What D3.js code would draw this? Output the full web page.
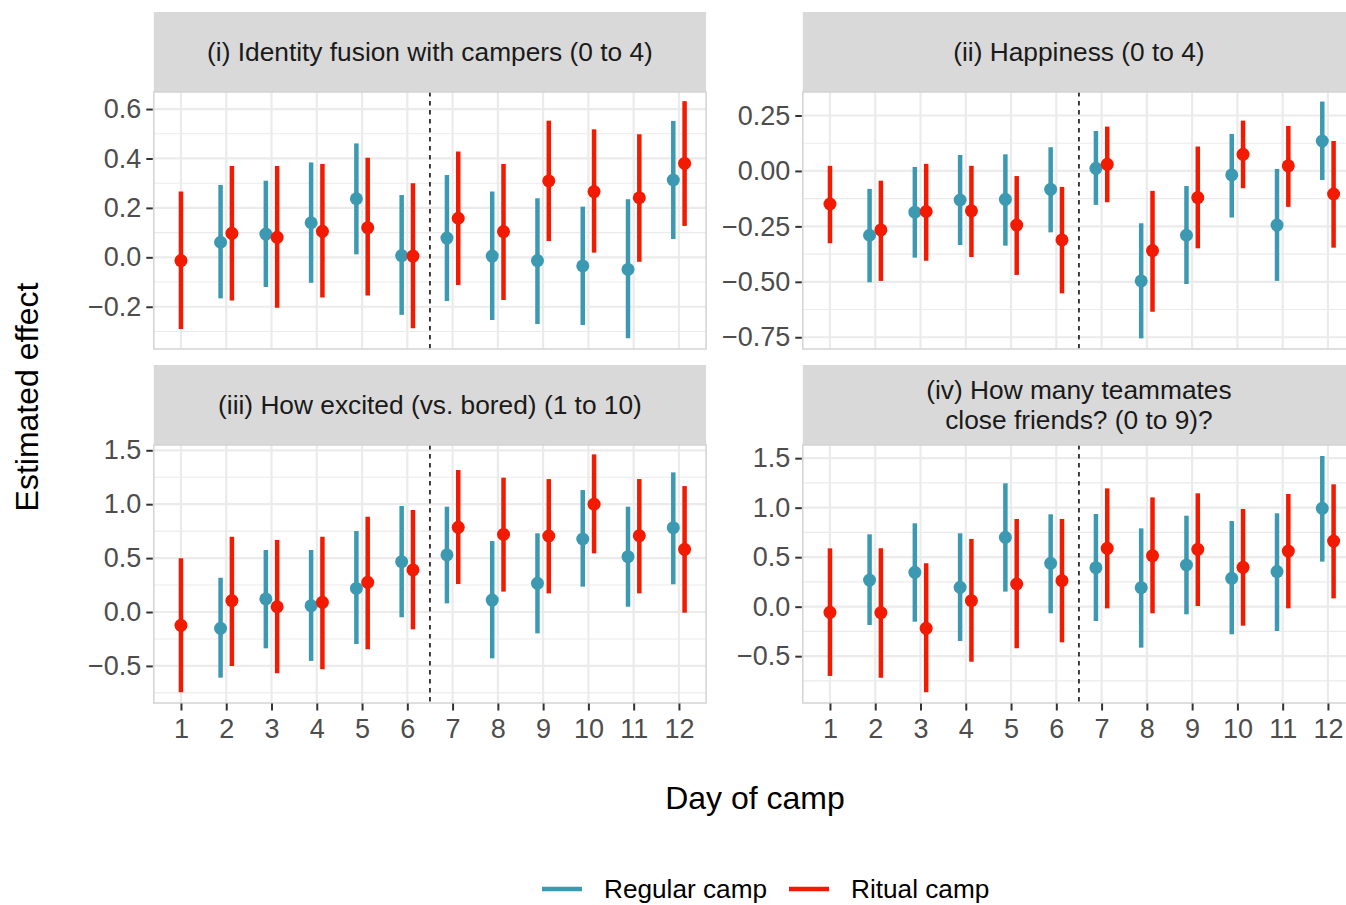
<!DOCTYPE html>
<html>
<head>
<meta charset="utf-8">
<script src="https://cdn.jsdelivr.net/npm/d3@7"></script>
<style>
  html, body { margin: 0; padding: 0; background: #ffffff; }
  svg { display: block; font-family: "Liberation Sans", Arial, sans-serif; }
</style>
</head>
<body>
<svg id="chart" width="1346" height="905"></svg>
<script>
// Days of camp (x categories)
const days = [1, 2, 3, 4, 5, 6, 7, 8, 9, 10, 11, 12];
const seriesNames = ["Regular camp", "Ritual camp"];
const seriesColors = ["#3B9AB2", "#F21A00"];

// Facet titles
const panelTitles = [
  ["(i) Identity fusion with campers (0 to 4)"],
  ["(ii) Happiness (0 to 4)"],
  ["(iii) How excited (vs. bored) (1 to 10)"],
  ["(iv) How many teammates", "close friends? (0 to 9)?"]
];

// Estimates per day as [estimate, lower, upper]; null = not estimated
const fusionRegular = [null, [0.061, -0.166, 0.293], [0.094, -0.12, 0.31], [0.14, -0.103, 0.384], [0.237, 0.012, 0.461], [0.007, -0.233, 0.252],
  [0.078, -0.177, 0.333], [0.005, -0.254, 0.266], [-0.013, -0.27, 0.239], [-0.035, -0.274, 0.205], [-0.049, -0.328, 0.235], [0.313, 0.074, 0.552]];
const fusionRitual = [[-0.013, -0.29, 0.266], [0.097, -0.175, 0.37], [0.081, -0.204, 0.37], [0.105, -0.163, 0.378], [0.12, -0.155, 0.403], [0.005, -0.287, 0.3],
  [0.158, -0.112, 0.428], [0.104, -0.173, 0.378], [0.309, 0.066, 0.553], [0.266, 0.019, 0.518], [0.241, -0.018, 0.498], [0.38, 0.127, 0.632]];

const happyRegular = [null, [-0.29, -0.502, -0.081], [-0.186, -0.391, 0.018], [-0.131, -0.334, 0.072], [-0.128, -0.337, 0.075], [-0.083, -0.277, 0.107],
  [0.012, -0.153, 0.18], [-0.496, -0.755, -0.236], [-0.29, -0.51, -0.068], [-0.018, -0.21, 0.167], [-0.244, -0.496, 0.009], [0.135, -0.041, 0.313]];
const happyRitual = [[-0.149, -0.326, 0.023], [-0.266, -0.496, -0.044], [-0.183, -0.405, 0.032], [-0.18, -0.388, 0.023], [-0.244, -0.469, -0.023], [-0.311, -0.552, -0.072],
  [0.03, -0.141, 0.2], [-0.359, -0.635, -0.09], [-0.12, -0.349, 0.11], [0.075, -0.078, 0.227], [0.023, -0.162, 0.203], [-0.104, -0.346, 0.135]];

const excitedRegular = [null, [-0.151, -0.609, 0.318], [0.121, -0.337, 0.575], [0.059, -0.454, 0.575], [0.219, -0.297, 0.751], [0.467, -0.049, 0.983],
  [0.529, 0.08, 0.977], [0.111, -0.43, 0.658], [0.266, -0.198, 0.73], [0.677, 0.235, 1.131], [0.513, 0.049, 0.977], [0.782, 0.257, 1.295]];
const excitedRitual = [[-0.124, -0.745, 0.498], [0.105, -0.501, 0.699], [0.049, -0.569, 0.668], [0.09, -0.532, 0.699], [0.275, -0.346, 0.884], [0.39, -0.161, 0.946],
  [0.785, 0.26, 1.317], [0.72, 0.189, 1.246], [0.705, 0.173, 1.233], [1.0, 0.544, 1.462], [0.708, 0.173, 1.233], [0.581, -0.006, 1.168]];

const friendsRegular = [null, [0.269, -0.185, 0.731], [0.347, -0.152, 0.842], [0.195, -0.347, 0.741], [0.7, 0.152, 1.246], [0.438, -0.067, 0.933],
  [0.394, -0.145, 0.936], [0.192, -0.414, 0.791], [0.421, -0.077, 0.919], [0.286, -0.279, 0.865], [0.354, -0.246, 0.943], [0.993, 0.455, 1.522]];
const friendsRitual = [[-0.057, -0.7, 0.589], [-0.061, -0.717, 0.589], [-0.219, -0.865, 0.438], [0.061, -0.556, 0.684], [0.229, -0.421, 0.886], [0.263, -0.36, 0.886],
  [0.589, -0.017, 1.195], [0.515, -0.067, 1.104], [0.579, 0.007, 1.145], [0.397, -0.192, 0.987], [0.562, -0.017, 1.138], [0.663, 0.084, 1.236]];

// Y axis ranges, breaks and minor breaks per facet
const yDomains = [[-0.371, 0.669], [-0.803, 0.356], [-0.844, 1.549], [-0.973, 1.633]];
const yTicks = [[-0.2, 0, 0.2, 0.4, 0.6], [-0.75, -0.5, -0.25, 0, 0.25], [-0.5, 0, 0.5, 1, 1.5], [-0.5, 0, 0.5, 1, 1.5]];
const yMinor = [[-0.3, -0.1, 0.1, 0.3, 0.5], [-0.625, -0.375, -0.125, 0.125], [-0.75, -0.25, 0.25, 0.75, 1.25], [-0.75, -0.25, 0.25, 0.75, 1.25]];
const yFormats = [".1f", ".2f", ".1f", ".1f"];

// Treatment starts after day 6
const cutDay = 6.5;

const panelData = [
  [fusionRegular, fusionRitual],
  [happyRegular, happyRitual],
  [excitedRegular, excitedRitual],
  [friendsRegular, friendsRitual]
];

// ---- layout ----
const svg = d3.select("#chart");
const colX = [153.8, 802.8];
const panelW = 552.3;
const rows = [
  { stripTop: 12, top: 92, bottom: 349 },
  { stripTop: 365, top: 445, bottom: 703 }
];
const dodge = 0.125;
const stripFont = 26.3;
const tickFont = 27;
const legendFont = 26.2;
const titleFont = 32;

panelData.forEach((series, i) => {
  const col = i % 2, row = Math.floor(i / 2);
  const x0 = colX[col], x1 = x0 + panelW;
  const r = rows[row];

  const x = d3.scaleLinear().domain([0.4, 12.6]).range([x0, x1]);
  const y = d3.scaleLinear().domain(yDomains[i]).range([r.bottom, r.top]);

  const g = svg.append("g");

  // strip
  g.append("rect")
    .attr("x", x0).attr("y", r.stripTop)
    .attr("width", panelW).attr("height", r.top - r.stripTop)
    .attr("fill", "#d9d9d9");
  const lines = panelTitles[i];
  const lh = 29.5;
  const cy = (r.stripTop + r.top) / 2;
  lines.forEach((t, k) => {
    g.append("text")
      .attr("x", (x0 + x1) / 2)
      .attr("y", cy + (k - (lines.length - 1) / 2) * lh)
      .attr("dy", "0.35em")
      .attr("text-anchor", "middle")
      .attr("font-size", stripFont)
      .attr("fill", "#1a1a1a")
      .text(t);
  });

  // panel background + grid
  g.append("rect").attr("x", x0).attr("y", r.top).attr("width", panelW).attr("height", r.bottom - r.top).attr("fill", "#ffffff");
  g.selectAll(".minor").data(yMinor[i]).join("line")
    .attr("x1", x0).attr("x2", x1)
    .attr("y1", d => y(d)).attr("y2", d => y(d))
    .attr("stroke", "#ebebeb").attr("stroke-width", 1.1);
  g.selectAll(".majorY").data(yTicks[i]).join("line")
    .attr("x1", x0).attr("x2", x1)
    .attr("y1", d => y(d)).attr("y2", d => y(d))
    .attr("stroke", "#ebebeb").attr("stroke-width", 2.2);
  g.selectAll(".majorX").data(days).join("line")
    .attr("x1", d => x(d)).attr("x2", d => x(d))
    .attr("y1", r.top).attr("y2", r.bottom)
    .attr("stroke", "#ebebeb").attr("stroke-width", 2.2);

  // cut-off line
  g.append("line")
    .attr("x1", x(cutDay)).attr("x2", x(cutDay))
    .attr("y1", r.top).attr("y2", r.bottom)
    .attr("stroke", "#000000").attr("stroke-width", 1.5)
    .attr("stroke-dasharray", "4.5,4.5");

  // point ranges, dodged when both groups have an estimate on a day
  series.forEach((vals, s) => {
    const pts = vals.map((v, k) => {
      if (!v) return null;
      const both = series.every(other => other[k]);
      const off = both ? (s === 0 ? -dodge : dodge) : 0;
      return { pos: days[k] + off, est: v[0], lo: v[1], hi: v[2] };
    }).filter(Boolean);
    const sg = g.append("g");
    sg.selectAll("line").data(pts).join("line")
      .attr("x1", d => x(d.pos)).attr("x2", d => x(d.pos))
      .attr("y1", d => y(d.lo)).attr("y2", d => y(d.hi))
      .attr("stroke", seriesColors[s]).attr("stroke-width", 4.5);
    sg.selectAll("circle").data(pts).join("circle")
      .attr("cx", d => x(d.pos)).attr("cy", d => y(d.est))
      .attr("r", 6.5).attr("fill", seriesColors[s]);
  });

  // panel border
  g.append("rect").attr("x", x0).attr("y", r.top).attr("width", panelW).attr("height", r.bottom - r.top)
    .attr("fill", "none").attr("stroke", "#d4d4d4").attr("stroke-width", 1.5);

  // y axis
  const yAxis = d3.axisLeft(y).tickValues(yTicks[i]).tickFormat(d3.format(yFormats[i])).tickSize(6.5).tickPadding(5);
  const ya = g.append("g").attr("transform", `translate(${x0 - 1},0)`).call(yAxis);
  ya.select(".domain").remove();
  ya.selectAll(".tick line").attr("stroke", "#333333").attr("stroke-width", 2);
  ya.selectAll(".tick text").attr("fill", "#4d4d4d").attr("font-size", tickFont).attr("font-family", "Liberation Sans, Arial, sans-serif");

  // x axis on bottom row
  if (row === 1) {
    const xAxis = d3.axisBottom(x).tickValues(days).tickFormat(d3.format("d")).tickSize(7).tickPadding(8);
    const xa = g.append("g").attr("transform", `translate(0,${r.bottom + 0.5})`).call(xAxis);
    xa.select(".domain").remove();
    xa.selectAll(".tick line").attr("stroke", "#333333").attr("stroke-width", 2);
    xa.selectAll(".tick text").attr("fill", "#4d4d4d").attr("font-size", tickFont).attr("font-family", "Liberation Sans, Arial, sans-serif");
  }
});

// axis titles
svg.append("text")
  .attr("x", 755).attr("y", 798).attr("dy", "0.35em")
  .attr("text-anchor", "middle").attr("font-size", titleFont).attr("fill", "#000000")
  .text("Day of camp");
svg.append("text")
  .attr("transform", "translate(27,397) rotate(-90)").attr("dy", "0.35em")
  .attr("text-anchor", "middle").attr("font-size", titleFont).attr("fill", "#000000")
  .text("Estimated effect");

// legend
const legendItems = [
  { name: seriesNames[0], color: seriesColors[0], x: 542 },
  { name: seriesNames[1], color: seriesColors[1], x: 789 }
];
const lg = svg.append("g");
legendItems.forEach(it => {
  lg.append("line").attr("x1", it.x).attr("x2", it.x + 40).attr("y1", 889).attr("y2", 889)
    .attr("stroke", it.color).attr("stroke-width", 4.5);
  lg.append("text").attr("x", it.x + 62).attr("y", 889).attr("dy", "0.35em")
    .attr("font-size", legendFont).attr("fill", "#000000").text(it.name);
});
</script>
</body>
</html>
